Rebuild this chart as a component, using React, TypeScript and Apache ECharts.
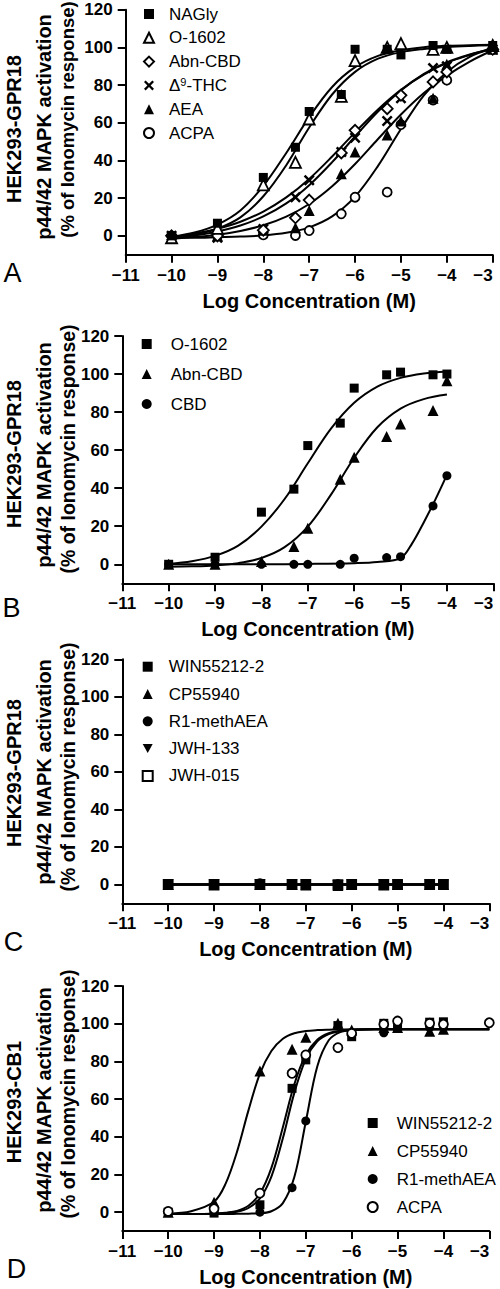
import React, { useEffect, useRef } from 'react';
import * as echarts from 'echarts';

const FONT = '"Liberation Sans", Arial, Helvetica, sans-serif';

// ---------- shared ticks ----------
const yTicks = [0, 20, 40, 60, 80, 100, 120];
const xAxisTitle = 'Log Concentration (M)';
const yTitleLines = ['p44/42 MAPK activation', '(% of Ionomycin response)'];
const cellLines = ['HEK293-GPR18', 'HEK293-GPR18', 'HEK293-GPR18', 'HEK293-CB1'];
const panelLetters = ['A', 'B', 'C', 'D'];

// ---------- Panel A ----------
const concA = [-10, -9, -8, -7.3, -7, -6.3, -6, -5.3, -5, -4.3, -4, -3];
const naglyA = [0, 6.7, 31, 47, 66, 75, 99, 99, 96, 101, 99, 101];
const o1602A = [-1, 4, 27, 39, 62, 74, 93, 100, 102, 99, 100, 101];
const abnA = [0, 0, 3, 9.6, 19, 44, 56, 67.5, 74.6, 81.7, 87, 99];
const thcA = [0, -1, 3.7, 20.5, 29.5, 44.5, 52, 61, 73, 89, 90, 99];
const aeaA = [-1, 0, 3, 4.3, 13.5, 33, 44.5, 53.5, 61, 73, 91, 99];
const acpaA = [0, 0, 0.5, 0.2, 2.8, 11.7, 20.5, 23.2, 59, 72, 82.6, 99];

const fitXA = [-10, -9.5, -9, -8.5, -8, -7.5, -7, -6.5, -6, -5.5, -5, -4.5, -4, -3.5, -3];
const naglyFitA = [-0.5, 1.8, 6, 13.5, 26.5, 44, 63, 79, 89.5, 95.5, 98.5, 100.1, 100.8, 101.2, 101.4];
const o1602FitA = [-1, 0.6, 3.8, 9.8, 21, 37.5, 57.5, 75, 87, 94, 97.5, 99.2, 100.2, 100.8, 101.2];
const thcFitA = [-1, 1.2, 3.8, 7.5, 12.9, 20.4, 30.2, 42.1, 54.9, 67.1, 77.5, 85.6, 91.8, 96, 99.5];
const abnFitA = [-1.2, 0.2, 2.3, 5.5, 10.3, 17.2, 26.9, 39.1, 52.7, 66, 77.2, 85.9, 92, 96.2, 99.3];
const aeaFitA = [-1.5, -0.6, 0.6, 2.6, 5.6, 10.2, 16.9, 26.3, 38.1, 51.4, 64.4, 75.8, 85, 92.5, 98.5];
const acpaFitA = [-1, -1, -0.7, -0.4, 0.2, 1.6, 4.5, 10.3, 20.8, 37.1, 56.7, 74.6, 87, 95, 99.5];

// ---------- Panel B ----------
const concB = [-10, -9, -8, -7.3, -7, -6.3, -6, -5.3, -5, -4.3, -4];
const o1602B = [0, 3.7, 27.4, 39.5, 62.4, 74.2, 92.6, 99.6, 101, 99.6, 100];
const abnB = [0, 0, 1.4, 9.3, 18.9, 44.7, 56.3, 67.2, 73.8, 80.8, 96.5];
const cbdB = [0, 0, 0, 0, 0, 0, 3.2, 3.5, 4, 30.7, 46.6];

const fitXB = [-10, -9.5, -9, -8.5, -8, -7.5, -7, -6.5, -6, -5.5, -5, -4.5, -4];
const o1602FitB = [0.2, 1.6, 4.4, 9.8, 19.8, 34.3, 53.1, 71.3, 84.9, 93.4, 98, 100.3, 101.4];
const abnFitB = [-1.3, -1.1, -0.6, 0.6, 3.3, 9, 19.8, 36.6, 56, 72, 81.8, 86.8, 89.2];
const cbdFitX = [-10, -9, -8, -7, -6, -5.5, -5, -4.75, -4.5, -4.25, -4];
const cbdFitB = [0, 0, 0, 0.2, 0.6, 1.2, 3.2, 11, 22, 34, 47];

// ---------- Panel C ----------
const concC = [-10, -9, -8, -7.3, -7, -6.3, -6, -5.3, -5, -4.3, -4];
const winC = [0, 0.3, 0, 0.3, 0.2, -0.3, 0.4, 0, 0.3, 0.2, 0.3];
const cpC = [0, -0.3, 0, 0, -0.2, -0.5, 0, -0.3, 0, 0, 0];
const r1C = [0, 0, 1, 0, 0, 0.5, 0.5, 0, 0, 0, 0];
const jwh133C = [0, 0, 0, 0, 0, -0.5, 0, 0, 0, 0, 0];
const jwh015C = [0, 0, 0, 0, 0, 0, 0, 0, 0, 0, 0];
const fitXC = [-10, -4];
const flatFitC = [0, 0];

// ---------- Panel D ----------
const concD = [-10, -9, -8, -7.3, -7, -6.3, -6, -5.3, -5, -4.3, -4, -3];
const winD = [0, -0.5, 3.9, 65.7, 80.8, 99, 93.1, 100.2, 98.5, 100.8, 101, null];
const cpD = [0, 5.3, 74.9, 86.4, 92.8, 100.2, 96.7, 98, 98, 96, 97, null];
const r1D = [0, 0, 0, 13, 48.4, 87, 94, 95.2, 97.7, 98, 98.5, null];
const acpaD = [0.4, 1.8, 10.1, 73.7, 83.4, 87.3, 94.9, 99.7, 101.4, 100.2, 99.7, 100.5];

const fitXD = [-10, -9.5, -9, -8.75, -8.5, -8.25, -8, -7.75, -7.5, -7.25, -7, -6.75, -6.5, -6.25, -6, -5.5, -5, -4, -3];
const cpFitD = [-0.8, 0.5, 5.5, 15, 32, 54, 73.5, 85.5, 92, 94.9, 96.1, 96.6, 96.8, 96.9, 97, 97, 97, 97, 97];
const acpaFitD = [-1, -1, -0.8, -0.3, 0.7, 3.4, 9.9, 23.5, 45.1, 67.9, 83.5, 91.5, 94.9, 96.2, 96.7, 97, 97, 97, 97];
const winFitD = [-1, -1, -0.9, -0.5, 0.2, 2.2, 7.3, 18.9, 39.2, 63.3, 81.2, 90.6, 94.5, 96, 96.7, 97, 97, 97, 97];
const r1FitD = [-1, -1, -1, -1, -0.9, -0.8, -0.6, 0.5, 4.8, 18.6, 48, 77.3, 91.2, 95.5, 96.6, 97, 97, 97, 97];

// ---------- marker styles ----------
const OPEN = { color: '#fff', borderColor: '#000', borderWidth: 1.8, opacity: 1 };
const FILL = { color: '#000', borderWidth: 0, opacity: 1 };
const CROSS = 'path://M0,1.6L1.6,0L5,3.4L8.4,0L10,1.6L6.6,5L10,8.4L8.4,10L5,6.6L1.6,10L0,8.4L3.4,5Z';
const INV_TRI = 'path://M0,0L10,0L5,9Z';
const SYM: Record<string, any> = {
  fsq: { symbol: 'rect', size: 9, style: FILL },
  osq: { symbol: 'rect', size: 9, style: OPEN },
  otri: { symbol: 'triangle', size: 11, style: OPEN },
  ftri: { symbol: 'triangle', size: 11, style: FILL },
  itri: { symbol: INV_TRI, size: 11, style: FILL },
  odia: { symbol: 'diamond', size: 11, style: OPEN },
  cross: { symbol: CROSS, size: 11, style: FILL },
  fcirc: { symbol: 'circle', size: 9, style: FILL },
  ocirc: { symbol: 'circle', size: 9, style: OPEN },
};

const pairs = (xs: number[], ys: (number | null)[]) =>
  xs.map((x, i) => [x, ys[i]]).filter((p) => p[1] !== null && p[1] !== undefined);

function scatter(k: number, name: string, xs: number[], ys: (number | null)[], s: string) {
  const m = SYM[s];
  return {
    type: 'scatter', name, xAxisIndex: k, yAxisIndex: k, data: pairs(xs, ys),
    symbol: m.symbol, symbolSize: m.size,
    itemStyle: m.style, z: 4, silent: true, clip: false,
  };
}
function fit(k: number, name: string, xs: number[], ys: number[]) {
  return {
    type: 'line', name: name + ' fit', xAxisIndex: k, yAxisIndex: k, data: pairs(xs, ys),
    smooth: 0.35, symbol: 'none', showSymbol: false,
    lineStyle: { color: '#000', width: 2, opacity: 1 }, itemStyle: { color: '#000' }, z: 2, silent: true, clip: false,
  };
}

const grids = [
  { left: 125.7, top: 9.7, width: 367, height: 245 },
  { left: 122.3, top: 336, width: 371, height: 247.3 },
  { left: 122.3, top: 659.3, width: 367, height: 244 },
  { left: 122.3, top: 986, width: 367, height: 245 },
];

const legendPos = [
  { left: 143, top: 5, gap: 5.8, pad: 10 },
  { left: 141.7, top: 335, gap: 12, pad: 14 },
  { left: 141.7, top: 657.7, gap: 9.3, pad: 11 },
  { left: 366.7, top: 1114, gap: 10, pad: 14 },
];

const titleY = [
  { l1: 129, l2: 127, l3: 119.5, f3: 18.5 },
  { l1: 454, l2: 455, l3: 449, f3: 19.5 },
  { l1: 773, l2: 772, l3: 767, f3: 19.5 },
  { l1: 1102, l2: 1100, l3: 1094, f3: 19.5 },
];
const letterPos = [[12.5, 273], [11.5, 607.5], [13.5, 941.5], [16.5, 1269]];

export default function App() {
  const ref = useRef<HTMLDivElement>(null);
  useEffect(() => {
    if (!ref.current) return;
    const chart = echarts.init(ref.current, undefined, { renderer: 'svg' });

    const series: any[] = [
      fit(0, 'A·NAGly', fitXA, naglyFitA),
      fit(0, 'A·O-1602', fitXA, o1602FitA),
      fit(0, 'A·Abn-CBD', fitXA, abnFitA),
      fit(0, 'A·Δ9-THC', fitXA, thcFitA),
      fit(0, 'A·AEA', fitXA, aeaFitA),
      fit(0, 'A·ACPA', fitXA, acpaFitA),
      scatter(0, 'A·ACPA', concA, acpaA, 'ocirc'),
      scatter(0, 'A·AEA', concA, aeaA, 'ftri'),
      scatter(0, 'A·Δ9-THC', concA, thcA, 'cross'),
      scatter(0, 'A·Abn-CBD', concA, abnA, 'odia'),
      scatter(0, 'A·O-1602', concA, o1602A, 'otri'),
      scatter(0, 'A·NAGly', concA, naglyA, 'fsq'),

      fit(1, 'B·O-1602', fitXB, o1602FitB),
      fit(1, 'B·Abn-CBD', fitXB, abnFitB),
      fit(1, 'B·CBD', cbdFitX, cbdFitB),
      scatter(1, 'B·CBD', concB, cbdB, 'fcirc'),
      scatter(1, 'B·Abn-CBD', concB, abnB, 'ftri'),
      scatter(1, 'B·O-1602', concB, o1602B, 'fsq'),

      fit(2, 'C·WIN55212-2', fitXC, flatFitC),
      fit(2, 'C·CP55940', fitXC, flatFitC),
      fit(2, 'C·R1-methAEA', fitXC, flatFitC),
      fit(2, 'C·JWH-133', fitXC, flatFitC),
      fit(2, 'C·JWH-015', fitXC, flatFitC),
      scatter(2, 'C·JWH-015', concC, jwh015C, 'osq'),
      scatter(2, 'C·JWH-133', concC, jwh133C, 'itri'),
      scatter(2, 'C·R1-methAEA', concC, r1C, 'fcirc'),
      scatter(2, 'C·CP55940', concC, cpC, 'ftri'),
      scatter(2, 'C·WIN55212-2', concC, winC, 'fsq'),

      fit(3, 'D·WIN55212-2', fitXD, winFitD),
      fit(3, 'D·CP55940', fitXD, cpFitD),
      fit(3, 'D·R1-methAEA', fitXD, r1FitD),
      fit(3, 'D·ACPA', fitXD, acpaFitD),
      scatter(3, 'D·WIN55212-2', concD, winD, 'fsq'),
      scatter(3, 'D·CP55940', concD, cpD, 'ftri'),
      scatter(3, 'D·R1-methAEA', concD, r1D, 'fcirc'),
      scatter(3, 'D·ACPA', concD, acpaD, 'ocirc'),
    ];

    const legendNames = [
      ['A·NAGly', 'A·O-1602', 'A·Abn-CBD', 'A·Δ9-THC', 'A·AEA', 'A·ACPA'],
      ['B·O-1602', 'B·Abn-CBD', 'B·CBD'],
      ['C·WIN55212-2', 'C·CP55940', 'C·R1-methAEA', 'C·JWH-133', 'C·JWH-015'],
      ['D·WIN55212-2', 'D·CP55940', 'D·R1-methAEA', 'D·ACPA'],
    ];

    const axisLineStyle = { color: '#000', width: 2 };
    const labelFont = { fontFamily: FONT, fontSize: 17, fontWeight: 'bold', color: '#000' };

    const graphic: any[] = [];
    for (let k = 0; k < 4; k++) {
      const t = titleY[k];
      const base = { fontFamily: FONT, fontSize: 20, fontWeight: 'bold', fill: '#000', align: 'center', verticalAlign: 'middle' };
      graphic.push({ type: 'text', x: 14, y: t.l1, rotation: Math.PI / 2, style: { ...base, text: cellLines[k] } });
      graphic.push({ type: 'text', x: 43.6, y: t.l2, rotation: Math.PI / 2, style: { ...base, text: yTitleLines[0] } });
      graphic.push({ type: 'text', x: 67.5, y: t.l3, rotation: Math.PI / 2, style: { ...base, fontSize: t.f3, text: yTitleLines[1] } });
      graphic.push({
        type: 'text', x: letterPos[k][0], y: letterPos[k][1],
        style: { text: panelLetters[k], fontFamily: FONT, fontSize: 27, fill: '#000', align: 'center', verticalAlign: 'middle' },
      });
    }

    chart.setOption({
      animation: false,
      backgroundColor: '#fff',
      grid: grids.map((g) => ({ ...g, outerBoundsMode: 'none' })),
      xAxis: grids.map((_, k) => ({
        type: 'value', gridIndex: k, min: -11, max: -3, interval: 1,
        axisLine: { show: true, onZero: false, lineStyle: axisLineStyle },
        axisTick: { show: true, length: 8, lineStyle: axisLineStyle },
        axisLabel: {
          ...labelFont, margin: 12, alignMaxLabel: 'right',
          formatter: (v: number) => (v < 0 ? '\u2212' + Math.abs(v) : String(v)),
        },
        splitLine: { show: false },
        name: xAxisTitle, nameLocation: 'middle', nameGap: 36,
        nameTextStyle: { fontFamily: FONT, fontSize: 20, fontWeight: 'bold', color: '#000', lineHeight: 20 },
      })),
      yAxis: grids.map((_, k) => ({
        type: 'value', gridIndex: k, min: -10, max: 120,
        axisLine: { show: true, onZero: false, lineStyle: axisLineStyle },
        axisTick: { show: true, length: 8, lineStyle: axisLineStyle, customValues: yTicks },
        axisLabel: { ...labelFont, margin: 13, customValues: yTicks },
        splitLine: { show: false },
      })),
      legend: legendNames.map((names, k) => ({
        orient: 'vertical', left: legendPos[k].left, top: legendPos[k].top,
        itemWidth: 10, itemHeight: 10, itemGap: legendPos[k].gap, padding: 0,
        selectedMode: false, data: names,
        formatter: (n: string) => {
          const d = n.slice(2);
          return d === 'Δ9-THC' ? '{n|Δ}{s|9}{n|-THC}' : d;
        },
        textStyle: {
          fontFamily: FONT, fontSize: 17, color: '#000', lineHeight: 18,
          padding: [0, 0, 0, legendPos[k].pad],
          rich: {
            n: { fontFamily: FONT, fontSize: 17, color: '#000', lineHeight: 18 },
            s: { fontFamily: FONT, fontSize: 11, color: '#000', verticalAlign: 'top', lineHeight: 12 },
          },
        },
      })),
      graphic,
      series,
    });
    return () => chart.dispose();
  }, []);
  return <div ref={ref} style={{ position: 'absolute', left: 0, top: 0, width: 500, height: 1289 }} />;
}
